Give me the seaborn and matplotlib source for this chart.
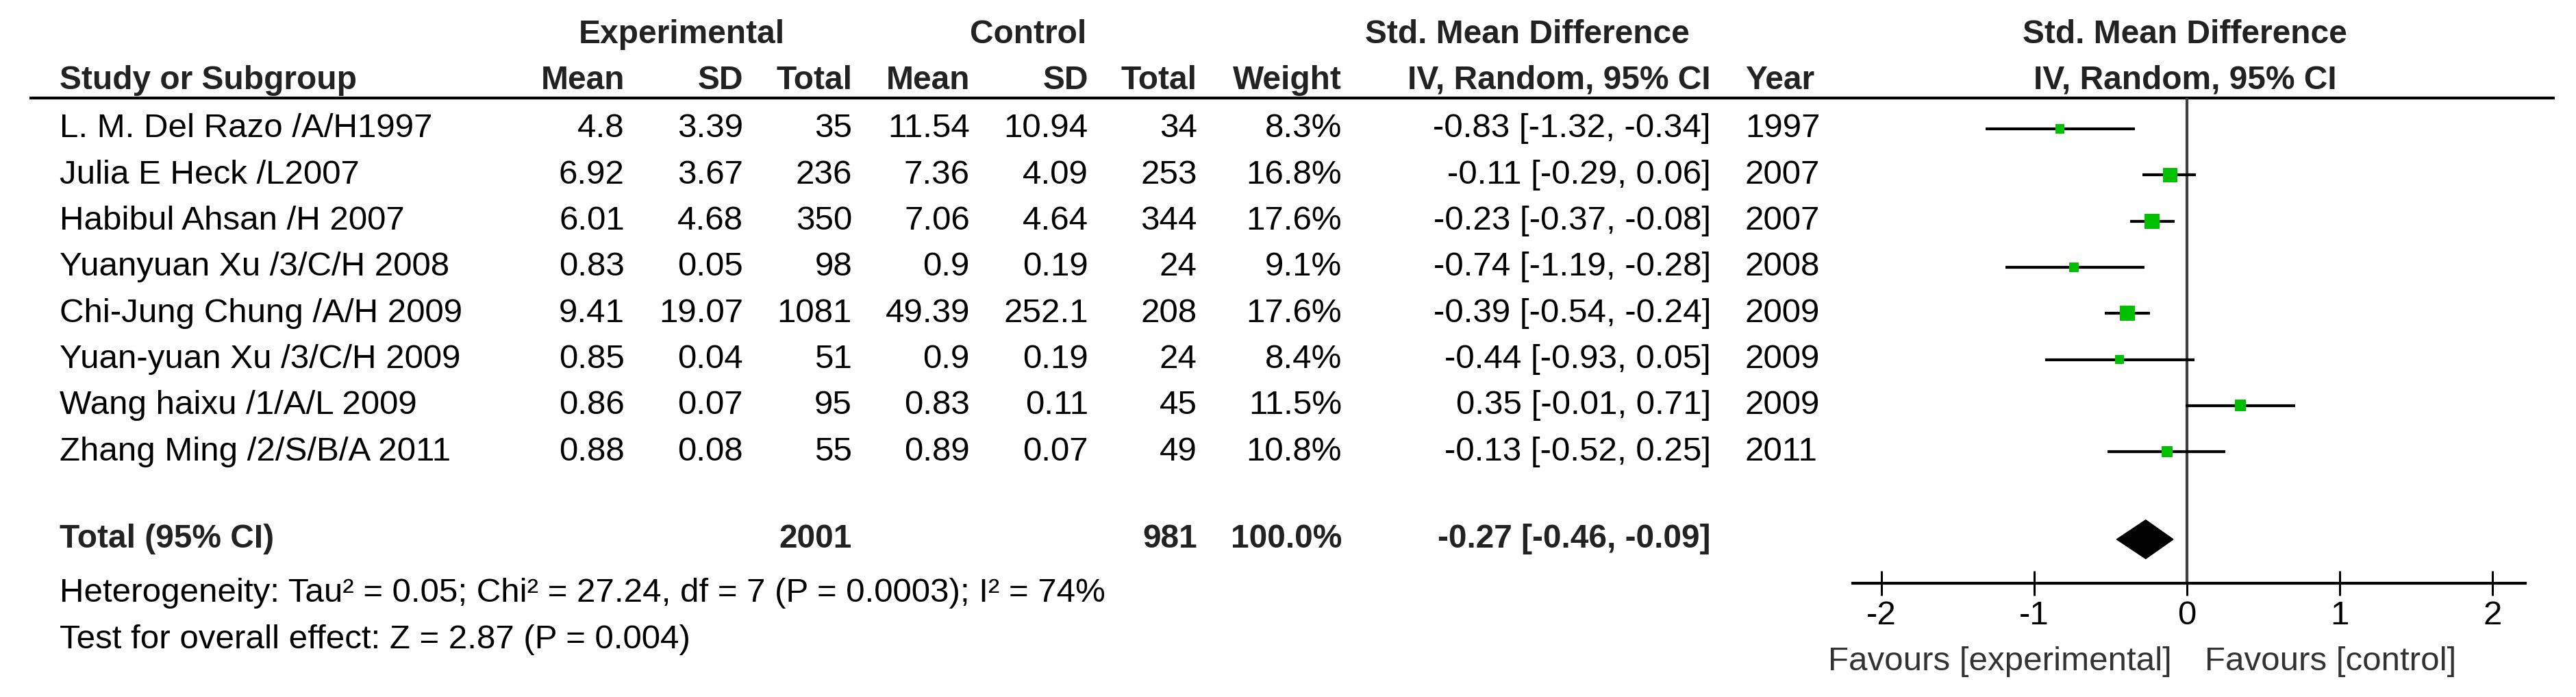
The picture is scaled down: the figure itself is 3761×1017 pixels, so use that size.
import numpy as np
import pandas as pd
import matplotlib
matplotlib.use("Agg")
import matplotlib.pyplot as plt
import seaborn as sns

# Study data
studies = ["L. M. Del Razo /A/H1997", "Julia E Heck /L2007", "Habibul Ahsan /H 2007",
           "Yuanyuan Xu /3/C/H 2008", "Chi-Jung Chung /A/H 2009", "Yuan-yuan Xu /3/C/H 2009",
           "Wang haixu /1/A/L 2009", "Zhang Ming /2/S/B/A 2011"]
exp_mean = [4.8, 6.92, 6.01, 0.83, 9.41, 0.85, 0.86, 0.88]
exp_sd = [3.39, 3.67, 4.68, 0.05, 19.07, 0.04, 0.07, 0.08]
exp_n = [35, 236, 350, 98, 1081, 51, 95, 55]
ctl_mean = [11.54, 7.36, 7.06, 0.9, 49.39, 0.9, 0.83, 0.89]
ctl_sd = [10.94, 4.09, 4.64, 0.19, 252.1, 0.19, 0.11, 0.07]
ctl_n = [34, 253, 344, 24, 208, 24, 45, 49]
weight = [8.3, 16.8, 17.6, 9.1, 17.6, 8.4, 11.5, 10.8]
smd = [-0.83, -0.11, -0.23, -0.74, -0.39, -0.44, 0.35, -0.13]
ci_lo = [-1.32, -0.29, -0.37, -1.19, -0.54, -0.93, -0.01, -0.52]
ci_hi = [-0.34, 0.06, -0.08, -0.28, -0.24, 0.05, 0.71, 0.25]
years = [1997, 2007, 2007, 2008, 2009, 2009, 2009, 2011]

# pooled result
total_exp = 2001
total_ctl = 981
total_weight = 100.0
pooled = -0.27
pooled_lo = -0.46
pooled_hi = -0.09
heterogeneity = "Heterogeneity: Tau\u00b2 = 0.05; Chi\u00b2 = 27.24, df = 7 (P = 0.0003); I\u00b2 = 74%"
overall = "Test for overall effect: Z = 2.87 (P = 0.004)"
xticks = [-2, -1, 0, 1, 2]

df = pd.DataFrame({"study": studies, "smd": smd, "lo": ci_lo, "hi": ci_hi,
                   "weight": weight, "row": np.arange(len(studies))})

sns.set_style("white")
plt.rcParams['font.family'] = ['Liberation Sans', 'DejaVu Sans']
plt.rcParams['axes.unicode_minus'] = False

W, H = 3762, 1017
fig = plt.figure(figsize=(W / 100, H / 100), dpi=100)
ax = fig.add_axes([0, 0, 1, 1])

# x in SMD units (0 at px 3193, 223 px per unit), y in row units
x0, unit = 3193, 223
ax.set_xlim(-x0 / unit, (W - x0) / unit)
y_top, row_h = 188, 67.3
ax.set_ylim((H - y_top) / row_h, -y_top / row_h)

fs = 35.5   # regular text
fsb = 34.5  # bold text
col = lambda px: px / W
tr = matplotlib.transforms.blended_transform_factory(ax.transAxes, ax.transData)

hdr = dict(fontsize=fsb, fontweight="bold", color="#222222", va="center", transform=tr)
# header row 1
ax.text(col(995), -2.05, "Experimental", ha="center", **hdr)
ax.text(col(1501), -2.05, "Control", ha="center", **hdr)
ax.text(col(2230), -2.05, "Std. Mean Difference", ha="center", **hdr)
ax.text(col(3190), -2.05, "Std. Mean Difference", ha="center", **hdr)
# header row 2
ax.text(col(87), -1.05, "Study or Subgroup", ha="left", **hdr)
for px, lab in [(912, "Mean"), (1085, "SD"), (1244, "Total"), (1416, "Mean"),
                (1589, "SD"), (1748, "Total"), (1959, "Weight"), (2498, "IV, Random, 95% CI")]:
    ax.text(col(px), -1.05, lab, ha="right", **hdr)
ax.text(col(2548), -1.05, "Year", ha="left", **hdr)
ax.text(col(3190), -1.05, "IV, Random, 95% CI", ha="center", **hdr)

# header underline
ax.plot([col(43), col(3730)], [-0.67, -0.67], color="black", lw=3, transform=tr,
        solid_capstyle="butt")

# study rows
body = dict(fontsize=fs, color="black", va="center", transform=tr)
for i in range(len(studies)):
    ax.text(col(87), i, studies[i], ha="left", **body)
    ax.text(col(912), i, str(exp_mean[i]), ha="right", **body)
    ax.text(col(1085), i, str(exp_sd[i]), ha="right", **body)
    ax.text(col(1244), i, str(exp_n[i]), ha="right", **body)
    ax.text(col(1416), i, str(ctl_mean[i]), ha="right", **body)
    ax.text(col(1589), i, str(ctl_sd[i]), ha="right", **body)
    ax.text(col(1748), i, str(ctl_n[i]), ha="right", **body)
    ax.text(col(1959), i, f"{weight[i]:.1f}%", ha="right", **body)
    ax.text(col(2498), i, f"{smd[i]:.2f} [{ci_lo[i]:.2f}, {ci_hi[i]:.2f}]", ha="right", **body)
    ax.text(col(2548), i, str(years[i]), ha="left", **body)

# total row
trow = 8.9
ax.text(col(87), trow, "Total (95% CI)", ha="left", **hdr)
ax.text(col(1244), trow, str(total_exp), ha="right", **hdr)
ax.text(col(1748), trow, str(total_ctl), ha="right", **hdr)
ax.text(col(1959), trow, f"{total_weight:.1f}%", ha="right", **hdr)
ax.text(col(2498), trow, f"{pooled:.2f} [{pooled_lo:.2f}, {pooled_hi:.2f}]", ha="right", **hdr)
ax.text(col(87), 10.07, heterogeneity, ha="left", **body)
ax.text(col(87), 11.08, overall, ha="left", **body)

# forest: zero line, CIs, squares, diamond
ax.vlines(0, -0.67, 9.85, color="#404040", lw=3)
ax.hlines(df["row"], df["lo"], df["hi"], color="black", lw=3)
sns.scatterplot(data=df, x="smd", y="row", size="weight", sizes=(88, 250),
                marker="s", color="#00C000", linewidth=0, legend=False, ax=ax, zorder=3)
ax.fill([pooled_lo, pooled, pooled_hi, pooled], [trow, trow - 0.42, trow, trow + 0.42],
        color="black", zorder=3)

# bottom axis of the forest plot
for s in ["top", "left", "right"]:
    ax.spines[s].set_visible(False)
ax.spines["bottom"].set_position(("data", 9.85))
ax.spines["bottom"].set_bounds(-2.19, 2.215)
ax.spines["bottom"].set_linewidth(3)
ax.spines["bottom"].set_color("black")
ax.set_xticks(xticks)
ax.set_xticklabels([str(t) for t in xticks])
ax.set_yticks([])
ax.tick_params(axis="x", direction="inout", length=26, width=2.2, labelsize=fs,
               pad=5, colors="black", bottom=True)
ax.set_xlabel("")
ax.set_ylabel("")

fav = dict(body, color="#333333")
ax.text(3171 / W, 11.55, "Favours [experimental]", ha="right", **fav)
ax.text(3219 / W, 11.55, "Favours [control]", ha="left", **fav)

fig.savefig("out.png", dpi=100)
